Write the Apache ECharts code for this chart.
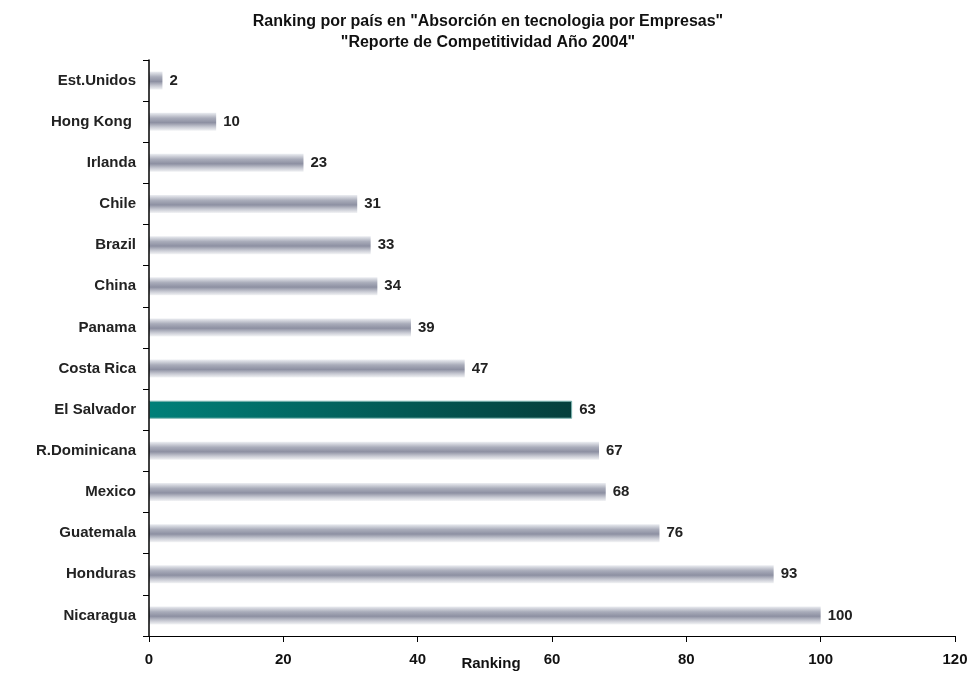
<!DOCTYPE html>
<html>
<head>
<meta charset="utf-8">
<script src="https://cdn.jsdelivr.net/npm/echarts@6/dist/echarts.min.js"></script>
<style>
  html, body { margin: 0; padding: 0; background: #fff; }
  #chart { width: 976px; height: 677px; }
</style>
</head>
<body>
<div id="chart"></div>
<script>
// datos del ranking
var paises = ['Est.Unidos', 'Hong Kong ', 'Irlanda', 'Chile', 'Brazil', 'China', 'Panama',
  'Costa Rica', 'El Salvador', 'R.Dominicana', 'Mexico', 'Guatemala', 'Honduras', 'Nicaragua'];
var ranking = [2, 10, 23, 31, 33, 34, 39, 47, 63, 67, 68, 76, 93, 100];
var destacado = 'El Salvador';
var titulo = 'Ranking por país en "Absorción en tecnologia por Empresas"\n"Reporte de Competitividad Año 2004"';

var plata = new echarts.graphic.LinearGradient(0, 0, 0, 1, [
  { offset: 0, color: '#eceef2' },
  { offset: 0.3, color: '#a9acba' },
  { offset: 0.55, color: '#8d90a2' },
  { offset: 0.8, color: '#c9cbd4' },
  { offset: 1, color: '#f2f3f5' }
]);
var verde = new echarts.graphic.LinearGradient(0, 0, 1, 0, [
  { offset: 0, color: '#008079' },
  { offset: 1, color: '#053f3c' }
]);

var datos = paises.map(function (p, i) {
  return {
    value: ranking[i],
    itemStyle: p === destacado ? { color: verde, borderColor: '#7fb7b3', borderWidth: 1 } : { color: plata }
  };
});

var chart = echarts.init(document.getElementById('chart'));
chart.setOption({
  animation: false,
  title: {
    text: titulo,
    left: 'center',
    top: 6,
    textStyle: {
      fontFamily: 'Liberation Sans',
      fontWeight: 'bold',
      fontSize: 16,
      lineHeight: 21,
      color: '#111'
    }
  },
  grid: { left: 149, right: 21, top: 60, bottom: 41, outerBoundsMode: 'none' },
  xAxis: {
    type: 'value',
    min: 0,
    max: 120,
    interval: 20,
    name: 'Ranking',
    nameLocation: 'middle',
    nameGap: 20,
    nameMoveOverlap: false,
    nameTextStyle: {
      fontFamily: 'Liberation Sans', fontWeight: 'bold', fontSize: 15, color: '#111',
      padding: [0, 122, 0, 0]
    },
    axisLine: { show: true, lineStyle: { color: '#000', width: 1 } },
    axisTick: { show: true, length: 6, lineStyle: { color: '#000' } },
    axisLabel: { fontFamily: 'Liberation Sans', fontWeight: 'bold', fontSize: 15, color: '#111', margin: 16 },
    splitLine: { show: false }
  },
  yAxis: {
    type: 'category',
    data: paises,
    inverse: true,
    z: 5,
    axisLine: { show: true, lineStyle: { color: '#000', width: 1.5 } },
    axisTick: { show: true, length: 6, lineStyle: { color: '#000' } },
    axisLabel: { fontFamily: 'Liberation Sans', fontWeight: 'bold', fontSize: 15, color: '#222', margin: 13 }
  },
  series: [{
    type: 'bar',
    data: datos,
    barWidth: 18,
    label: {
      show: true,
      position: 'right',
      distance: 7,
      fontFamily: 'Liberation Sans',
      fontWeight: 'bold',
      fontSize: 15,
      color: '#222'
    }
  }]
});
</script>
</body>
</html>
